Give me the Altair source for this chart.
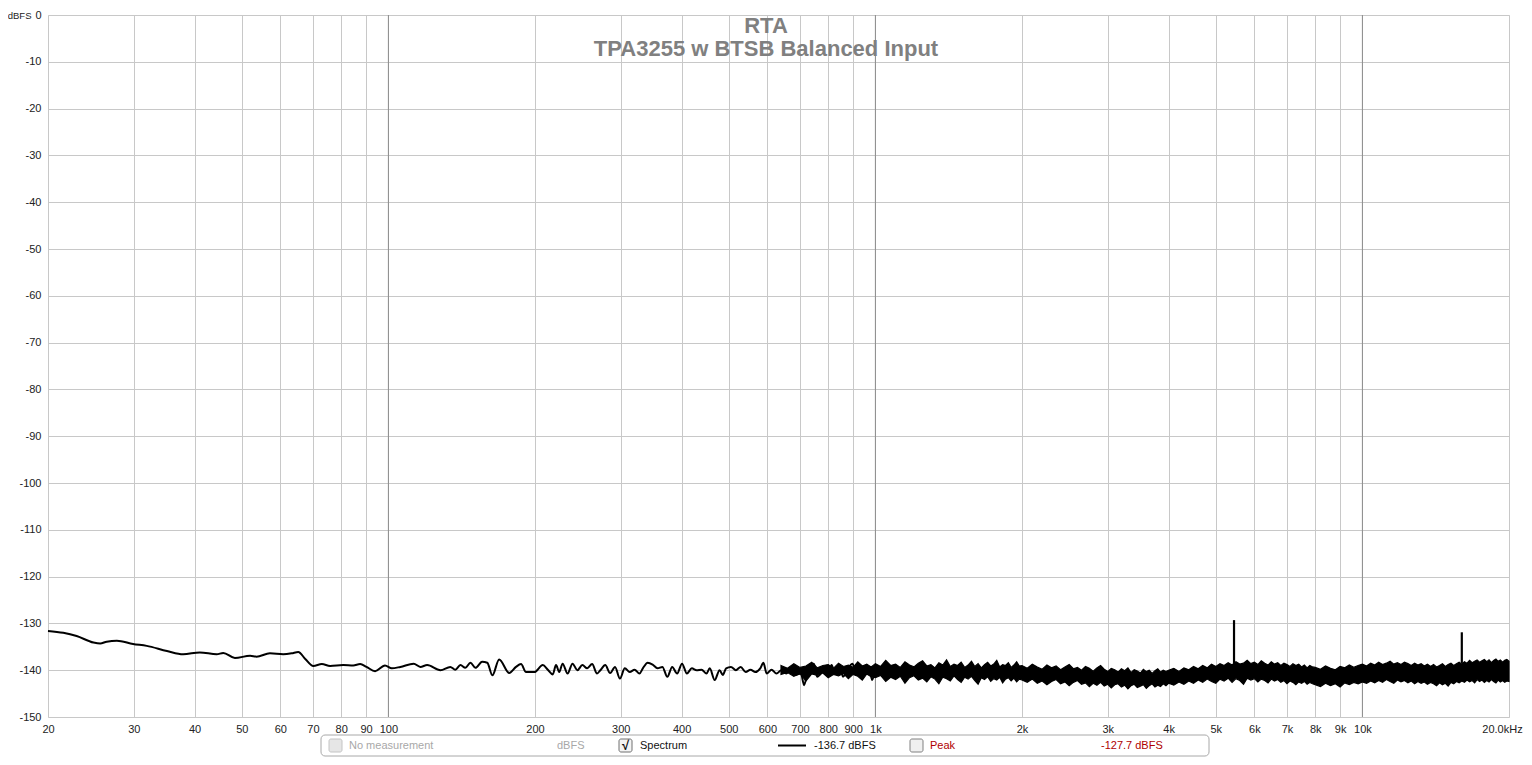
import altair as alt
import pandas as pd

# ---------------- data ----------------
freq_low = [20, 21.5, 22.9, 24.8, 25.6, 26.4, 27.7, 29.9, 31.9, 35.1,
            37.9, 41.0, 44.4, 45.8, 48.4, 52.0, 53.6, 57.1, 60.8, 63.3,
            65.3, 67.5, 70.1, 73.0, 75.9, 80.8, 84.7, 87.5, 90.2, 93.9,
            98.4, 101.6, 105.8, 112.7, 116.3, 120.1, 127.9, 134.0, 137.2, 140.6,
            143.9, 147.4, 150.9, 155.8, 159.6, 163.5, 168.8, 177.1, 182.8, 187.2,
            191.7, 199.4, 207.5, 212.5, 217.5, 220.9, 224.3, 227.9, 233.3, 238.8,
            244.4, 250.2, 256.0, 262.0, 268.2, 272.4, 278.8, 285.3, 292.0, 298.8,
            305.8, 313.0, 320.3, 327.8, 333.0, 340.8, 348.8, 357.0, 365.3, 373.9,
            382.6, 391.6, 400.8, 410.2, 419.8, 429.5, 439.7, 450.0, 457.0, 467.7,
            478.6, 486.0, 493.7, 505.2, 517.0, 529.0, 541.5, 554.0, 567.0, 580.2,
            589.0, 598.0, 612.0, 626.5, 641.0, 656.0, 671.5, 687.0, 703.0, 714.0,
            730.7, 747.7, 759.0, 777.0, 789.0, 801.0, 813.0, 826.0, 845.0, 858.0,
            878.0, 898.0, 912.0, 926.0, 948.0, 970.0, 985.0, 998.0]
db_low = [-131.6, -132.0, -132.7, -134.1, -134.3, -133.9, -133.7, -134.4, -134.8, -135.9,
          -136.6, -136.2, -136.6, -136.3, -137.4, -136.9, -137.1, -136.4, -136.6, -136.4,
          -136.1, -137.6, -139.1, -138.7, -139.1, -138.9, -139.0, -138.7, -139.3, -140.2,
          -139.0, -139.6, -139.3, -138.6, -139.3, -138.9, -140.0, -139.3, -139.9, -138.9,
          -139.5, -138.4, -139.5, -138.2, -138.4, -141.1, -137.7, -140.6, -139.3, -138.7,
          -140.4, -140.4, -138.9, -139.9, -140.9, -138.9, -140.4, -138.6, -140.7, -138.6,
          -140.0, -138.9, -139.6, -138.7, -140.7, -140.0, -138.9, -140.6, -139.3, -141.8,
          -139.6, -140.4, -139.9, -140.7, -139.6, -138.4, -138.8, -139.6, -139.3, -141.4,
          -139.3, -140.7, -138.6, -140.7, -139.6, -140.0, -139.9, -140.7, -139.6, -142.1,
          -140.0, -141.0, -139.6, -139.3, -140.0, -139.3, -140.4, -139.9, -140.4, -139.6,
          -138.4, -140.7, -139.9, -140.7, -140.0, -140.7, -139.6, -141.0, -140.7, -143.2,
          -138.9, -138.6, -141.4, -140.4, -139.3, -140.4, -138.9, -140.7, -139.3, -141.4,
          -139.6, -138.6, -141.0, -139.3, -140.0, -139.3, -142.1, -139.8]

band_freq = [640, 660, 680, 700, 720, 740, 760, 780, 800, 820,
             840, 860, 880, 900, 920, 940, 960, 980,
             1000, 1025, 1050, 1075, 1100, 1125, 1150, 1175, 1200, 1225,
             1250, 1275, 1300, 1325, 1350, 1375, 1400, 1425, 1450, 1475,
             1500, 1525, 1550, 1575, 1600, 1625, 1650, 1675, 1700, 1725,
             1750, 1775, 1800, 1825, 1850, 1875, 1900, 1925, 1950, 1975,
             2000, 2050, 2100, 2150, 2200, 2250, 2300, 2350, 2400, 2450,
             2500, 2550, 2600, 2650, 2700, 2750, 2800, 2850, 2900, 2950,
             3000, 3050, 3100, 3150, 3200, 3250, 3300, 3350, 3400, 3450,
             3500, 3550, 3600, 3650, 3700, 3750, 3800, 3850, 3900, 3950,
             4000, 4100, 4200, 4300, 4400, 4500, 4600, 4700, 4800, 4900,
             5000, 5100, 5200, 5300, 5400, 5500, 5600, 5700, 5800, 5900,
             6000, 6100, 6200, 6300, 6400, 6500, 6600, 6700, 6800, 6900,
             7000, 7100, 7200, 7300, 7400, 7500, 7600, 7700, 7800, 7900,
             8000, 8200, 8400, 8600, 8800, 9000, 9200, 9400, 9600, 9800,
             10000, 10200, 10400, 10600, 10800, 11000, 11200, 11400, 11600, 11800,
             12000, 12200, 12400, 12600, 12800, 13000, 13200, 13400, 13600, 13800,
             14000, 14200, 14400, 14600, 14800, 15000, 15200, 15400, 15600, 15800,
             16000, 16200, 16400, 16600, 16800, 17000, 17200, 17400, 17600, 17800,
             18000, 18200, 18400, 18600, 18800, 19000, 19200, 19400, 19600, 19800,
             20000]
band_hi = [-139.0, -139.6, -138.6, -139.4, -139.1, -138.3, -139.5, -139.0, -138.8, -139.6,
           -138.5, -139.2, -138.9, -139.4, -138.2, -139.1, -138.7, -139.3,
           -138.6, -139.2, -137.9, -139.0, -138.7, -139.4, -138.2, -138.9, -139.3, -138.5,
           -138.0, -139.1, -138.8, -139.5, -138.4, -138.9, -137.8, -139.2, -138.7, -139.0,
           -138.3, -139.4, -138.9, -138.1, -139.2, -138.6, -139.5, -138.8, -138.3, -139.1,
           -138.7, -137.9, -139.3, -138.8, -139.0, -138.4, -139.4, -138.9, -138.2, -139.1,
           -139.0, -139.6, -138.7, -139.3, -139.8, -138.9, -139.5, -139.1, -139.9, -139.3,
           -138.8, -139.7, -139.4, -140.0, -139.2, -139.6, -140.2, -139.5, -139.0, -139.8,
           -140.3, -139.6, -139.9, -140.4, -139.7, -140.1, -139.5, -140.5, -139.9, -140.2,
           -140.6, -139.8, -140.3, -140.0, -140.7, -140.1, -139.7, -140.4, -140.0, -140.3,
           -140.0, -139.6, -140.3, -139.5, -139.9, -139.2, -139.7, -139.0, -139.5, -138.7,
           -139.2, -138.6, -139.0, -138.4, -138.9, -138.2, -138.7, -138.5, -137.9, -138.6,
           -138.3, -138.8, -138.0, -138.5, -138.9, -138.2, -138.7, -138.4, -139.0, -138.5,
           -138.8, -139.2, -138.6, -139.0, -138.7, -139.3, -138.9, -139.5, -139.0, -139.3,
           -139.4, -139.8, -139.1, -139.6, -139.9, -139.2, -139.5, -138.9, -139.4, -139.0,
           -138.7, -139.1, -138.5, -138.9, -138.3, -138.8, -138.5, -138.1, -138.7, -138.4,
           -138.8, -138.3, -138.6, -139.0, -138.5, -138.9, -138.6, -139.1, -138.7, -139.2,
           -138.8, -139.3, -139.0, -138.6, -139.2, -138.8, -138.5, -139.0, -138.6, -138.3,
           -138.7, -138.2, -138.5, -137.9, -138.4, -138.1, -137.8, -138.3, -138.0, -137.7,
           -138.2, -137.8, -138.4, -137.9, -137.6, -138.1, -137.8, -138.3, -137.9, -137.7,
           -138.1]
band_lo = [-140.9, -140.5, -141.3, -140.7, -142.3, -140.8, -141.1, -140.6, -141.6, -140.9,
           -141.2, -140.7, -141.8, -140.9, -141.3, -142.1, -140.8, -141.4,
           -141.6, -141.1, -142.4, -141.5, -142.0, -141.3, -142.8, -141.6, -141.2, -142.1,
           -141.7, -142.5, -141.4, -141.9, -142.9, -141.5, -141.8, -142.3, -141.2, -142.0,
           -142.6, -141.5, -141.9, -141.3, -142.2, -143.0, -141.6, -142.0, -141.4, -142.4,
           -141.8, -142.1, -141.5, -142.7, -141.9, -141.6, -142.3, -141.7, -142.5, -141.9,
           -142.1, -142.6, -141.9, -142.8, -142.3, -143.1, -142.4, -142.0, -142.9, -142.5,
           -143.3, -142.6, -142.2, -143.0, -142.7, -143.5, -142.8, -143.2, -142.6, -143.4,
           -143.0, -143.8, -143.1, -142.9, -143.6, -143.2, -144.0, -143.3, -143.0, -143.7,
           -143.4, -143.1, -143.9, -143.3, -142.9, -143.6, -143.2, -143.5, -142.9, -143.3,
           -142.8, -143.2, -142.5, -143.0, -142.3, -142.8, -142.1, -142.6, -141.9, -142.4,
           -142.8, -141.9, -142.3, -141.7, -142.6, -141.8, -142.2, -143.0, -141.7, -142.1,
           -141.8, -142.5, -141.9, -142.2, -142.7, -141.9, -142.3, -142.0, -142.6, -142.2,
           -142.9, -142.3, -142.6, -143.1, -142.5, -142.8, -142.4, -143.0, -142.6, -142.9,
           -143.1, -143.5, -142.8, -143.3, -142.9, -143.6, -142.7, -143.1, -142.6, -142.9,
           -142.5, -142.8, -142.3, -142.7, -142.2, -142.6, -142.0, -142.4, -142.8, -142.1,
           -142.5, -142.2, -142.7, -142.3, -142.9, -142.4, -142.8, -142.5, -143.0, -142.6,
           -142.9, -143.3, -142.7, -143.1, -142.8, -143.4, -142.6, -142.9, -142.4, -142.7,
           -142.3, -142.6, -142.1, -142.5, -142.2, -142.7, -142.0, -142.4, -142.1, -142.6,
           -142.2, -142.5, -142.0, -142.4, -142.7, -142.1, -142.5, -142.2, -142.6, -142.3,
           -142.4]

spike_freq = [5450, 16000]
spike_top = [-129.3, -131.9]
spike_base = [-139.0, -138.6]

decade_freq = [100, 1000, 10000]
x_ticks = [20, 30, 40, 50, 60, 70, 80, 90, 100, 200, 300, 400, 500, 600, 700, 800, 900,
           1000, 2000, 3000, 4000, 5000, 6000, 7000, 8000, 9000, 10000, 20000]
y_ticks = [0, -10, -20, -30, -40, -50, -60, -70, -80, -90, -100, -110, -120, -130, -140, -150]

title_main = "RTA"
title_sub = "TPA3255 w BTSB Balanced Input"
y_unit = "dBFS"
legend_texts = ["No measurement", "dBFS", "Spectrum", "-136.7 dBFS", "Peak", "-127.7 dBFS"]

# ---------------- chart ----------------
W, H = 1461, 702
FONT = "Liberation Sans"

xscale = alt.Scale(type="log", domain=[20, 20000], nice=False)
yscale = alt.Scale(domain=[-150, 0], nice=False)

xaxis = alt.Axis(values=x_ticks, title=None, grid=True, gridColor="#c8c8c8", gridWidth=1,
                 domain=False, ticks=False, labelPadding=6, labelFont=FONT, labelFontSize=11,
                 labelColor="#222222", labelFlush=False, labelOverlap=False,
                 labelOffset={"condition": {"test": "datum.value >= 20000", "value": -7}, "value": 0},
                 labelExpr="datum.value >= 20000 ? '20.0kHz' : (datum.value >= 1000 ? (datum.value/1000) + 'k' : '' + datum.value)")
yaxis = alt.Axis(values=y_ticks, title=None, grid=True, gridColor="#c8c8c8", gridWidth=1,
                 domain=False, ticks=False, labelPadding=7, labelFont=FONT, labelFontSize=11,
                 labelColor="#222222", labelFlush=False, labelOverlap=False,
                 labelExpr="'' + datum.value")

low_df = pd.DataFrame({"f": freq_low, "db": db_low})
band_df = pd.DataFrame({"f": band_freq, "hi": band_hi, "lo": band_lo})
spike_df = pd.DataFrame({"f": spike_freq, "top": spike_top, "base": spike_base})
dec_df = pd.DataFrame({"f": decade_freq})

base_axes = alt.Chart(low_df).mark_line(opacity=0).encode(
    x=alt.X("f:Q", scale=xscale, axis=xaxis),
    y=alt.Y("db:Q", scale=yscale, axis=yaxis),
)

decades = alt.Chart(dec_df).mark_rule(color="#8c8c8c", strokeWidth=1).encode(
    x=alt.X("f:Q", scale=xscale), y=alt.value(0), y2=alt.value(H))

band = alt.Chart(band_df).mark_area(color="black", stroke="black", strokeWidth=1.2).encode(
    x=alt.X("f:Q", scale=xscale), y=alt.Y("hi:Q", scale=yscale), y2="lo:Q")

low_line = alt.Chart(low_df).mark_line(color="black", strokeWidth=2, interpolate="monotone").encode(
    x=alt.X("f:Q", scale=xscale), y=alt.Y("db:Q", scale=yscale))

spikes = alt.Chart(spike_df).mark_rule(color="black", strokeWidth=2.2).encode(
    x=alt.X("f:Q", scale=xscale), y=alt.Y("top:Q", scale=yscale), y2="base:Q")


def label(text, x, y, size=11, color="#222222", weight="normal", align="left", baseline="middle"):
    return alt.Chart(pd.DataFrame({"t": [text]})).mark_text(
        font=FONT, fontSize=size, color=color, fontWeight=weight, align=align, baseline=baseline
    ).encode(x=alt.value(x), y=alt.value(y), text="t:N")


def box(x, x2, y, y2, fill, stroke, radius):
    return alt.Chart(pd.DataFrame({"k": [0]})).mark_rect(
        fill=fill, stroke=stroke, strokeWidth=1, cornerRadius=radius
    ).encode(x=alt.value(x), x2=alt.value(x2), y=alt.value(y), y2=alt.value(y2))


titles = [
    label(title_main, 718, 18, size=22, color="#808080", weight="bold", align="center", baseline="alphabetic"),
    label(title_sub, 718, 41, size=22, color="#808080", weight="bold", align="center", baseline="alphabetic"),
    label(y_unit, -16.5, 4, size=9.5, color="#222222", align="right", baseline="alphabetic"),
]

LY = 730.5
legend = [
    box(273, 1161, 720, 741, "white", "#a8a8a8", 4),
    box(281, 294, LY - 6.5, LY + 6.5, "#e6e6e6", "#c4c4c4", 2),
    label(legend_texts[0], 301, LY, color="#a8a8a8"),
    label(legend_texts[1], 509, LY, color="#a8a8a8"),
    box(571, 584, LY - 6.5, LY + 6.5, "#f4f4f4", "#707070", 2),
    label("\u221a", 577.5, LY, size=13, color="#111111", align="center", weight="bold"),
    label(legend_texts[2], 592, LY, color="#111111"),
    alt.Chart(pd.DataFrame({"k": [0]})).mark_rule(color="black", strokeWidth=2).encode(
        x=alt.value(730), x2=alt.value(758), y=alt.value(LY)),
    label(legend_texts[3], 766, LY, color="#111111"),
    box(862, 875, LY - 6.5, LY + 6.5, "#f0f0f0", "#808080", 2),
    label(legend_texts[4], 882, LY, color="#b00000"),
    label(legend_texts[5], 1053, LY, color="#b00000"),
]

chart = alt.layer(base_axes, decades, band, low_line, spikes, *titles, *legend).properties(
    width=W, height=H,
    autosize=alt.AutoSizeParams(type="none"),
    padding={"left": 40, "top": 7, "right": 14, "bottom": 40},
).configure_view(stroke="#bdbdbd", strokeWidth=3).configure(background="white")

chart.save("out.html", embed_options={"renderer": "svg", "actions": False})
